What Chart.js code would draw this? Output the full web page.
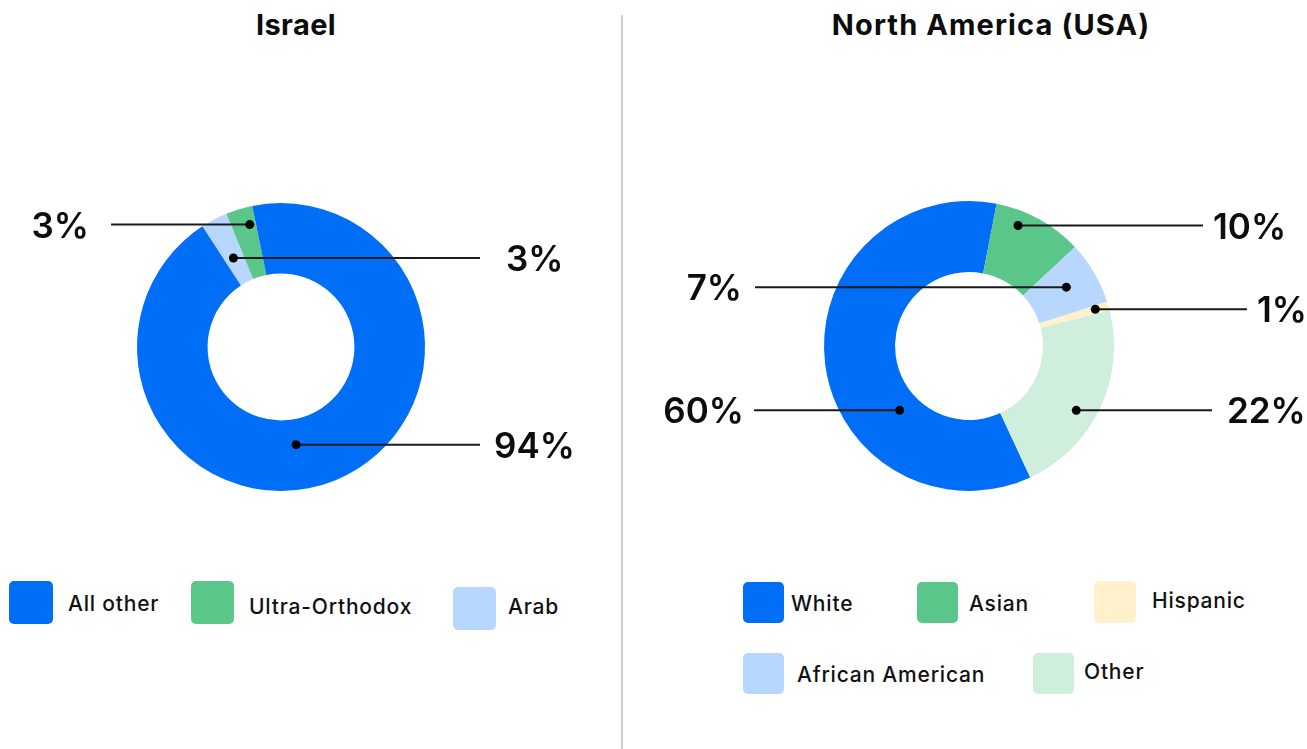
<!DOCTYPE html>
<html>
<head>
<meta charset="utf-8">
<script src="https://cdn.jsdelivr.net/npm/chart.js@4.4.1/dist/chart.umd.min.js"></script>
<style>
  html, body { margin: 0; padding: 0; background: #fff; }
  body { width: 1307px; height: 749px; position: relative; overflow: hidden;
         font-family: Inter, "Noto Sans", sans-serif; color: #111; }
  canvas { position: absolute; top: 0; }
  #cIsrael { left: 0; }
  #cUsa { left: 624px; }
  .divider { position: absolute; left: 621px; top: 15px; width: 2px; height: 734px; background: #cfcfcf; }
  .title { position: absolute; top: 10px; font-size: 29px; font-weight: 700; line-height: 30px;
           transform: translateX(-50%); white-space: nowrap; color: #0d0d0d; }
  .sw { position: absolute; border-radius: 5px; }
  .lt { position: absolute; font-size: 21px; font-weight: 500; line-height: 24px; height: 24px;
        letter-spacing: 0.8px; white-space: nowrap; color: #111; }
</style>
</head>
<body>
<div class="divider"></div>
<div class="title" style="left:296px; letter-spacing:0.4px">Israel</div>
<div class="title" style="left:991px; letter-spacing:1.1px">North America (USA)</div>

<canvas id="cIsrael" width="620" height="560"></canvas>
<canvas id="cUsa" width="683" height="560"></canvas>

<div id="legends"></div>

<script>
// Israel: population shares (drawn clockwise from the upper left)
const israelCategories = ['Arab', 'Ultra-Orthodox', 'All other'];
const israelValues = [3, 3, 94];
const israelColors = ['#b8d7fe', '#5bc68a', '#006ef7'];

// North America (USA): population shares
const usaCategories = ['White', 'Asian', 'African American', 'Hispanic', 'Other'];
const usaValues = [60, 10, 7, 1, 22];
const usaColors = ['#006ef7', '#5bc68a', '#b8d7fe', '#fff1cc', '#cfeedc'];

// Legend order as listed under each doughnut
const israelLegendOrder = ['All other', 'Ultra-Orthodox', 'Arab'];
const usaLegendOrder = ['White', 'Asian', 'Hispanic', 'African American', 'Other'];

// Callout placement for every slice: t = position along the slice's sweep,
// f = position across the ring, lineTo = end of the leader line, textX / align = label anchor
const israelCallouts = [
  { t: 0.46, f: 0.39, lineTo: 480, textX: 506, align: 'left' },
  { t: 0.74, f: 0.75, lineTo: 111, textX: 89, align: 'right' },
  { t: 0.54, f: 0.36, lineTo: 480, textX: 494, align: 'left' }
];
const usaCallouts = [
  { t: 0.334, f: 0.29, lineTo: 130, textX: 120, align: 'right' },
  { t: 0.31, f: 0.79, lineTo: 579, textX: 589, align: 'left' },
  { t: 0.47, f: 0.56, lineTo: 131, textX: 118, align: 'right' },
  { t: 0.44, f: 0.81, lineTo: 623, textX: 633, align: 'left' },
  { t: 0.57, f: 0.72, lineTo: 588, textX: 603, align: 'left' }
];

// Draws a dot inside each slice, a horizontal leader line and the percentage label
const calloutPlugin = {
  id: 'callouts',
  afterDatasetsDraw(chart, args, opts) {
    const ctx = chart.ctx;
    const meta = chart.getDatasetMeta(0);
    const values = chart.data.datasets[0].data;
    ctx.save();
    meta.data.forEach((arc, i) => {
      const c = opts.items[i];
      if (!c) return;
      const p = arc.getProps(['x', 'y', 'startAngle', 'endAngle', 'innerRadius', 'outerRadius'], true);
      const a = p.startAngle + c.t * (p.endAngle - p.startAngle);
      const r = p.innerRadius + c.f * (p.outerRadius - p.innerRadius);
      const dx = p.x + r * Math.cos(a);
      const dy = p.y + r * Math.sin(a);
      ctx.strokeStyle = '#1b1b1b';
      ctx.lineWidth = 2;
      ctx.beginPath();
      ctx.moveTo(dx, dy);
      ctx.lineTo(c.lineTo, dy);
      ctx.stroke();
      ctx.fillStyle = '#000';
      ctx.beginPath();
      ctx.arc(dx, dy, 4.5, 0, Math.PI * 2);
      ctx.fill();
      ctx.font = '600 35px Inter, "Noto Sans", sans-serif';
      ctx.textAlign = c.align;
      ctx.textBaseline = 'alphabetic';
      ctx.fillStyle = '#0d0d0d';
      ctx.fillText(values[i] + '%', c.textX, dy + 13);
    });
    ctx.restore();
  }
};

function doughnut(canvasId, labels, values, colors, rotation, padding, callouts) {
  return new Chart(document.getElementById(canvasId), {
    type: 'doughnut',
    data: {
      labels: labels,
      datasets: [{ data: values, backgroundColor: colors, borderWidth: 0, hoverOffset: 0 }]
    },
    options: {
      responsive: false,
      animation: false,
      devicePixelRatio: 1,
      cutout: '51%',
      rotation: rotation,
      layout: { padding: padding },
      plugins: {
        legend: { display: false },
        tooltip: { enabled: false },
        callouts: { items: callouts }
      }
    },
    plugins: [calloutPlugin]
  });
}

doughnut('cIsrael', israelCategories, israelValues, israelColors, -33.1,
  { left: 137, right: 195, top: 203, bottom: 69 }, israelCallouts);
doughnut('cUsa', usaCategories, usaValues, usaColors, 155,
  { left: 200, right: 193, top: 201, bottom: 69 }, usaCallouts);

// Legend swatches and labels
const legendSlots = {
  'All other':        { box: [9, 581, 44, 43],  text: [68, 604] },
  'Ultra-Orthodox':   { box: [191, 581, 43, 43], text: [249, 607] },
  'Arab':             { box: [453, 587, 43, 43], text: [508, 607] },
  'White':            { box: [743, 582, 41, 41], text: [791, 604] },
  'Asian':            { box: [917, 582, 41, 41], text: [969, 604] },
  'Hispanic':         { box: [1094, 581, 42, 42], text: [1152, 601] },
  'African American': { box: [743, 653, 41, 41], text: [797, 675] },
  'Other':            { box: [1033, 653, 41, 41], text: [1084, 672] }
};
const legendRoot = document.getElementById('legends');
function addLegend(order, categories, colors) {
  order.forEach(name => {
    const slot = legendSlots[name];
    const color = colors[categories.indexOf(name)];
    const sw = document.createElement('div');
    sw.className = 'sw';
    sw.style.cssText = `left:${slot.box[0]}px;top:${slot.box[1]}px;width:${slot.box[2]}px;height:${slot.box[3]}px;background:${color}`;
    legendRoot.appendChild(sw);
    const tx = document.createElement('div');
    tx.className = 'lt';
    tx.style.left = slot.text[0] + 'px';
    tx.style.top = (slot.text[1] - 12) + 'px';
    tx.textContent = name;
    legendRoot.appendChild(tx);
  });
}
addLegend(israelLegendOrder, israelCategories, israelColors);
addLegend(usaLegendOrder, usaCategories, usaColors);
</script>
</body>
</html>
